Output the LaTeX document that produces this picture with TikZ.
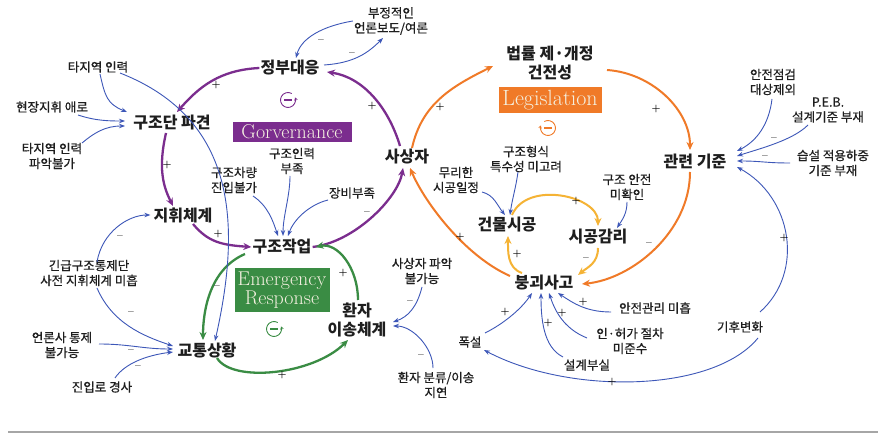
\documentclass[tikz,border=0pt]{standalone}
\usepackage{fontspec}
\newfontfamily\kr{Noto Sans CJK KR}
\newfontfamily\krm[FakeBold=0.6]{Noto Sans CJK KR}
\usetikzlibrary{arrows.meta}
\definecolor{purp}{HTML}{7B2D8E}
\definecolor{grn}{HTML}{3A8C44}
\definecolor{orn}{HTML}{F07A28}
\definecolor{yel}{HTML}{F5B335}
\definecolor{blu}{HTML}{3D57B8}
\definecolor{txt}{HTML}{1E1E1E}
\definecolor{boxtxt}{HTML}{F4F0E0}
\begin{document}
\begin{tikzpicture}[x=1pt,y=-1pt,
 main/.style={font=\kr\bfseries\fontsize{16}{19}\selectfont, text=txt, inner sep=1pt, align=center},
 minor/.style={font=\krm\fontsize{12.5}{15}\selectfont, text=txt, inner sep=1pt, align=center},
 sg/.style={font=\bfseries\fontsize{10}{10}\selectfont, text=black, inner sep=0pt},
 pl/.style={draw=purp, line width=2.3pt, -{Stealth[length=8pt,width=7pt]}},
 gl/.style={draw=grn, line width=2.3pt, -{Stealth[length=8pt,width=7pt]}},
 ol/.style={draw=orn, line width=2pt, -{Stealth[length=8pt,width=7pt]}},
 yl/.style={draw=yel, line width=2pt, -{Stealth[length=8pt,width=7pt]}},
 bl/.style={draw=blu, line width=0.9pt, -{Stealth[length=6pt,width=4.5pt]}},
 lbox/.style={text=boxtxt, inner sep=0pt, align=center},
 loopsym/.style={circle, minimum size=14pt, inner sep=0pt},
]
\useasboundingbox (0,0) rectangle (883,435);
\fill[white] (0,0) rectangle (883,435);

% ---- main nodes
\node[main] (jb) at (290,68) {정부대응};
\node[main] (gd) at (172,123) {구조단 파견};
\node[main] (jh) at (183,215) {지휘체계};
\node[main] (gj) at (282,247) {구조작업};
\node[main] (ssj) at (407,157) {사상자};
\node[main] (gt) at (207,350) {교통상황};
\node[main] (hj) at (357,320) {환자\\이송체계};
\node[main] (bl) at (550,63) {법률 제·개정\\건전성};
\node[main] (gjg) at (695,162) {관련 기준};
\node[main] (gms) at (507,225) {건물시공};
\node[main] (sgg) at (598,237) {시공감리};
\node[main] (bg) at (544,283) {붕괴사고};

% ---- minor nodes
\node[minor] (ngm) at (391,21) {부정적인\\언론보도/여론};
\node[minor] (tjr1) at (98,67) {타지역 인력};
\node[minor] (hjj) at (52,107) {현장지휘 애로};
\node[minor] (tjr2) at (52,156) {타지역 인력\\파악불가};
\node[minor] (gcc) at (234,180) {구조차량\\진입불가};
\node[minor] (gri) at (292,161) {구조인력\\부족};
\node[minor] (jbb) at (352,193) {장비부족};
\node[minor] (gg) at (89,273) {긴급구조통제단\\사전 지휘체계 미흡};
\node[minor] (ets) at (62,345) {언론사 통제\\불가능};
\node[minor] (jrg) at (102,387) {진입로 경사};
\node[minor] (ssp) at (422,271) {사상자 파악\\불가능};
\node[minor] (hbr) at (436,385) {환자 분류/이송\\지연};
\node[minor] (gjh) at (526,159) {구조형식\\특수성 미고려};
\node[minor] (mrh) at (456,180) {무리한\\시공일정};
\node[minor] (gja) at (627,187) {구조 안전\\미확인};
\node[minor] (ajg) at (655,308) {안전관리 미흡};
\node[minor] (ihg) at (630,341) {인·허가 절차\\미준수};
\node[minor] (sgb) at (587,365) {설계부실};
\node[minor] (ps) at (470,342) {폭설};
\node[minor] (ajj) at (773,82) {안전점검\\대상제외};
\node[minor] (peb) at (828,110) {P.E.B.\\설계기준 부재};
\node[minor] (ss) at (833,163) {습설 적용하중\\기준 부재};
\node[minor] (kh) at (740,327) {기후변화};

% ---- loop boxes
\node[lbox, fill=purp, minimum width=119pt, minimum height=20pt, font=\fontsize{20}{19}\selectfont] (gov) at (292,132) {Gorvernance};
\node[lbox, fill=grn, minimum width=95pt, minimum height=44pt, font=\fontsize{20}{18.5}\selectfont] (emr) at (282,290) {Emergency\\Response};
\node[lbox, fill=orn, minimum width=103pt, minimum height=26pt, font=\fontsize{22}{19}\selectfont] (leg) at (550,100) {Legislation};

% ---- loop symbols
\node[loopsym] (lp1) at (288,100) {};
\draw[purp, line width=0.9pt, -{Stealth[length=3pt,width=3.5pt]}] (lp1.center) ++(-60:7.5) arc[start angle=-60, delta angle=-320, radius=7.5];
\draw[purp, line width=1.4pt] ([xshift=-4pt]lp1.center) -- ([xshift=4pt]lp1.center);
\node[loopsym] (lp2) at (274,329) {};
\draw[grn, line width=0.9pt, -{Stealth[length=3pt,width=3.5pt]}] (lp2.center) ++(-60:7.5) arc[start angle=-60, delta angle=-320, radius=7.5];
\draw[grn, line width=1.4pt] ([xshift=-4pt]lp2.center) -- ([xshift=4pt]lp2.center);
\node[loopsym] (lp3) at (548,128) {};
\draw[orn, line width=0.9pt, -{Stealth[length=3pt,width=3.5pt]}] (lp3.center) ++(-120:7.5) arc[start angle=-120, delta angle=320, radius=7.5];
\draw[orn, line width=1.4pt] ([xshift=-4pt]lp3.center) -- ([xshift=4pt]lp3.center);

% ---- purple loop
\draw[pl] (jb.west) .. controls +(-40,2) and +(22,-25) .. ([shift={(5,-11)}]gd.center);
\draw[pl] ([shift={(-6,10)}]gd.center) .. controls +(-8,35) and +(-10,-20) .. ([shift={(-10,-9)}]jh.center);
\draw[pl] ([shift={(10,9)}]jh.center) .. controls +(15,18) and +(-30,-2) .. (gj.west);
\draw[pl] (gj.east) .. controls +(42,-5) and +(-5,30) .. ([shift={(-4,11)}]ssj.center);
\draw[pl] ([shift={(-7,-11)}]ssj.center) .. controls +(-12,-40) and +(35,5) .. ([shift={(37,4)}]jb.center);

% ---- green loop
\draw[gl] ([shift={(-37,7)}]gj.center) .. controls +(-35,15) and +(0,-30) .. ([shift={(-4,-10)}]gt.center);
\draw[gl] ([shift={(10,8)}]gt.center) .. controls +(15,25) and +(-35,35) .. ([shift={(-9,20)}]hj.center);
\draw[gl] ([shift={(1,-20)}]hj.center) .. controls +(0,-32) and +(22,-5) .. ([shift={(3,0)}]gj.east);

% ---- orange loop
\draw[ol] ([shift={(5,-9)}]ssj.center) .. controls +(10,-45) and +(-40,20) .. ([shift={(-57,3)}]bl.center);
\draw[ol] ([shift={(57,7)}]bl.center) .. controls +(45,3) and +(0,-40) .. ([shift={(-5,-12)}]gjg.center);
\draw[ol] ([shift={(-5,10)}]gjg.center) .. controls +(0,60) and +(50,-5) .. ([shift={(38,1)}]bg.center);
\draw[ol] ([shift={(-34,-7)}]bg.center) .. controls +(-45,-20) and +(15,35) .. ([shift={(3,11)}]ssj.center);

% ---- yellow loop
\draw[yl] ([shift={(5,-10)}]gms.center) .. controls +(15,-35) and +(0,-30) .. ([shift={(0,-11)}]sgg.center);
\draw[yl] ([shift={(0,11)}]sgg.center) .. controls +(0,15) and +(10,-8) .. ([shift={(34,-8)}]bg.center);
\draw[yl] ([shift={(-22,-10)}]bg.center) .. controls +(-15,-5) and +(0,15) .. ([shift={(1,11)}]gms.center);

% ---- blue links
\draw[bl] ([shift={(34,-3)}]jb.center) .. controls +(30,-2) and +(-15,15) .. ([shift={(-8,17)}]ngm.center);
\draw[bl] (ngm.west) .. controls +(-30,5) and +(5,-20) .. ([shift={(6,-10)}]jb.center);
\draw[bl] ([shift={(2,7)}]tjr1.center) .. controls +(5,22) and +(-20,-8) .. ([shift={(-45,-11)}]gd.center);
\draw[bl] ([shift={(26,8)}]hjj.center) .. controls +(18,6) and +(-15,0) .. ([shift={(-47,-2)}]gd.center);
\draw[bl] ([shift={(30,-13)}]tjr2.center) .. controls +(12,-10) and +(-20,0) .. ([shift={(-47,3)}]gd.center);
\draw[bl] ([shift={(22,6)}]tjr1.center) .. controls +(120,47) and +(25,-111) .. ([shift={(8,-9)}]gt.center);
\draw[bl] ([shift={(8,-11)}]gg.center) .. controls +(5,-30) and +(-22,0) .. ([shift={(-2,0)}]jh.west);
\draw[bl] ([shift={(8,15)}]gg.center) .. controls +(15,35) and +(-30,-10) .. ([shift={(-34,-4)}]gt.center);
\draw[bl] ([shift={(37,-1)}]ets.center) .. controls +(30,0) and +(-30,0) .. ([shift={(-34,-1)}]gt.center);
\draw[bl] ([shift={(13,-9)}]jrg.center) .. controls +(10,-15) and +(-25,3) .. ([shift={(-34,2)}]gt.center);
\draw[bl] ([shift={(19,16)}]gcc.center) .. controls +(15,10) and +(-5,-15) .. ([shift={(-4,-11)}]gj.center);
\draw[bl] ([shift={(-2,15)}]gri.center) .. controls +(0,20) and +(0,-20) .. ([shift={(1,-11)}]gj.center);
\draw[bl] ([shift={(-24,7)}]jbb.center) .. controls +(-20,5) and +(5,-15) .. ([shift={(6,-11)}]gj.center);
\draw[bl] ([shift={(0,16)}]ssp.center) .. controls +(-5,20) and +(15,-5) .. ([shift={(36,2)}]hj.center);
\draw[bl] ([shift={(-3,-17)}]hbr.center) .. controls +(0,-20) and +(20,0) .. ([shift={(36,6)}]hj.center);
\draw[bl] ([shift={(26,12)}]mrh.center) .. controls +(12,3) and +(-8,-10) .. ([shift={(-2,-10)}]gms.center);
\draw[bl] ([shift={(-8,13)}]gjh.center) .. controls +(-2,15) and +(2,-15) .. ([shift={(3,-10)}]gms.center);
\draw[bl] ([shift={(0,15)}]gja.center) .. controls +(0,12) and +(5,-8) .. ([shift={(19,-9)}]sgg.center);
\draw[bl] ([shift={(-44,4)}]ajg.center) .. controls +(-25,0) and +(15,10) .. ([shift={(14,10)}]bg.center);
\draw[bl] ([shift={(-43,-3)}]ihg.center) .. controls +(-25,-10) and +(5,15) .. ([shift={(5,10)}]bg.center);
\draw[bl] ([shift={(-24,-8)}]sgb.center) .. controls +(-20,-10) and +(0,25) .. ([shift={(-3,10)}]bg.center);
\draw[bl] ([shift={(15,-9)}]ps.center) .. controls +(20,-10) and +(-10,15) .. ([shift={(-12,10)}]bg.center);
\draw[bl] ([shift={(18,11)}]kh.center) .. controls +(-45,55) and +(85,45) .. ([shift={(14,8)}]ps.center);
\draw[bl] ([shift={(20,-15)}]kh.center) .. controls +(45,-40) and +(55,30) .. ([shift={(42,5)}]gjg.center);
\draw[bl] ([shift={(-1,17)}]ajj.center) .. controls +(-3,25) and +(20,-10) .. ([shift={(42,-11)}]gjg.center);
\draw[bl] ([shift={(-20,15)}]peb.center) .. controls +(-15,15) and +(25,-8) .. ([shift={(42,-6)}]gjg.center);
\draw[bl] ([shift={(-43,0)}]ss.center) .. controls +(-25,0) and +(25,0) .. ([shift={(42,-1)}]gjg.center);

% ---- polarity signs
\foreach \p in {(216,85),(167,165),(218,234),(372,106),(282,375),(343,273),(440,107),(656,109),(460,237),(576,201),(517,254),(583,302),(562,313),(548,323),(505,312),(612,382),(784,238)}
  \node[sg] at \p {+};
\foreach \p in {(367,213),(217,287),(649,244),(586,259),(352,54),(321,41),(120,237),(131,313),(131,351),(138,367),(410,302),(421,356),(774,139),(765,157)}
  \node[sg] at \p {--};

% ---- bottom rule
\draw[gray!70, line width=1.5pt] (8,432) -- (878,432);
\end{tikzpicture}
\end{document}
